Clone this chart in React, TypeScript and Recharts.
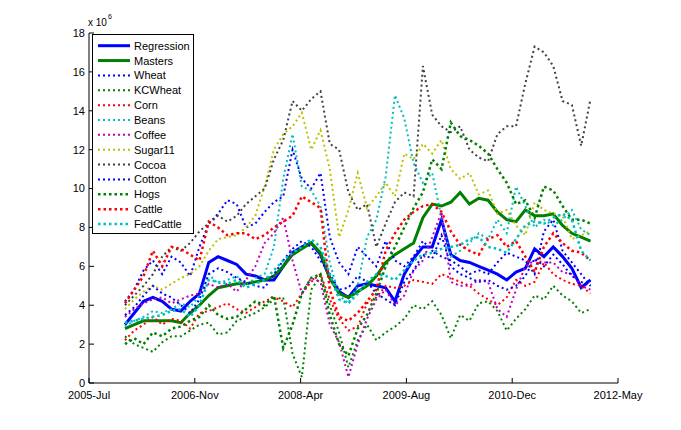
import { LineChart, Line, XAxis, YAxis } from "recharts";

// days since 2005-Jul (tick every 500 days)
const days = [
  170, 214, 258, 302, 346, 390, 434, 478, 522, 566,
  610, 654, 698, 742, 786, 830, 874, 918, 962, 1006,
  1050, 1094, 1138, 1182, 1226, 1270, 1314, 1358, 1402, 1446,
  1490, 1534, 1578, 1622, 1666, 1710, 1754, 1798, 1842, 1886,
  1930, 1974, 2018, 2062, 2106, 2150, 2194, 2238, 2282, 2326,
  2370,
];
const xTicks = [0, 500, 1000, 1500, 2000, 2500];
const xLabels = ["2005-Jul", "2006-Nov", "2008-Apr", "2009-Aug", "2010-Dec", "2012-May"];
const yTicks = [0, 2, 4, 6, 8, 10, 12, 14, 16, 18];

const regression = [
  3.0, 3.6, 4.2, 4.4, 4.2, 3.8, 3.7, 4.2, 4.6, 6.2,
  6.5, 6.3, 6.1, 5.6, 5.5, 5.3, 5.3, 6.0, 6.7, 7.0,
  7.2, 6.6, 5.4, 4.7, 4.4, 5.0, 5.1, 5.0, 4.9, 4.2,
  5.6, 6.4, 7.0, 7.0, 8.4, 6.6, 6.3, 6.2, 6.0, 5.8,
  5.6, 5.3, 5.7, 5.9, 6.9, 6.5, 7.0, 6.5, 5.9, 4.9,
  5.3,
];
const masters = [
  2.8, 3.0, 3.2, 3.2, 3.2, 3.2, 3.1, 3.6, 4.0, 4.5,
  4.9, 5.0, 5.1, 5.1, 5.2, 5.3, 5.5, 6.0, 6.6, 6.9,
  7.2, 6.7, 5.4, 4.6, 4.4, 4.7, 5.0, 5.5, 6.2, 6.6,
  6.9, 7.2, 8.5, 9.2, 9.1, 9.3, 9.8, 9.2, 9.5, 9.4,
  8.8, 8.4, 8.3, 8.9, 8.6, 8.6, 8.7, 8.1, 7.7, 7.5,
  7.3,
];
const wheat = [
  4.2, 4.8, 5.8, 6.3, 5.6, 6.5, 6.2, 5.5, 7.0, 8.2,
  8.7, 9.4, 9.2, 8.0, 8.2, 8.8, 9.3, 9.6, 12.0, 10.5,
  10.0, 10.8, 7.5, 6.2, 5.6, 7.0, 6.5, 6.0, 7.3, 6.3,
  6.0, 6.5, 7.3, 6.8, 6.5, 6.3, 6.0, 5.6, 5.8, 5.6,
  6.2, 6.7, 6.5, 6.3, 5.6, 7.8, 8.4, 6.8, 6.2, 5.6,
  5.0,
];
const kcWheat = [
  2.4, 2.0, 1.8, 1.6, 2.1, 2.4, 2.4, 2.7, 3.0, 3.1,
  2.5, 2.6, 3.2, 3.4, 3.6, 3.9, 4.3, 4.4, 1.5, 0.3,
  4.8, 5.5, 4.0, 2.6, 0.8, 2.2, 3.0, 2.2, 2.6, 2.9,
  3.3, 4.0, 3.8, 4.2, 3.5, 2.3, 3.5, 3.2, 4.1, 4.2,
  3.7, 2.7, 3.3, 3.8, 4.5, 4.3, 5.0, 4.5, 4.2, 3.6,
  3.8,
];
const corn = [
  2.2, 2.7, 3.0, 3.4, 3.0, 3.3, 3.2, 2.8, 3.6, 3.7,
  3.9, 4.1, 3.8, 3.6, 3.9, 4.2, 4.4, 4.2, 3.9, 4.6,
  5.2, 5.6, 4.3, 3.3, 2.7, 2.9, 4.1, 4.4, 5.0, 4.9,
  5.0, 5.3, 5.2, 5.1, 5.6, 5.4, 5.2, 5.0, 4.6, 4.3,
  4.0, 4.4, 5.3, 5.0, 5.2, 6.2, 5.6, 5.3, 5.1, 5.0,
  4.6,
];
const beans = [
  2.9, 3.2, 3.4, 3.7, 3.6, 3.8, 4.1, 3.9, 4.5, 5.6,
  5.1, 5.3, 5.5, 5.0, 5.4, 5.6, 7.0, 10.5, 12.8, 10.1,
  9.9, 9.1, 6.2, 4.5, 4.1, 5.0, 7.5, 8.4, 10.6, 14.8,
  13.6, 11.3, 10.3, 10.8, 8.5, 6.5, 6.8, 7.2, 7.7, 7.4,
  8.4, 7.7, 10.1, 9.1, 8.0, 8.4, 8.1, 8.4, 8.9, 7.9,
  7.6,
];
const coffee = [
  3.4, 3.8, 4.1, 4.3, 4.4, 4.1, 4.3, 4.5, 4.6, 5.1,
  4.9, 5.1, 4.7, 5.3, 6.0, 7.2, 7.7, 8.5, 6.3, 4.6,
  5.4, 5.2, 3.0, 2.1, 0.3, 2.0, 3.3, 4.3, 4.8, 4.0,
  4.5, 5.8, 6.3, 7.5, 8.8, 5.2, 5.0, 5.0, 5.3, 5.2,
  3.8, 3.4, 4.8, 6.0, 6.3, 6.2, 6.2, 5.7, 5.6, 5.0,
  4.8,
];
const sugar11 = [
  3.8, 4.3, 4.7, 5.0, 4.8, 5.1, 5.4, 5.6, 6.0, 6.8,
  7.4, 7.5, 7.6, 8.0, 8.6, 10.1, 12.0, 12.8, 13.2, 13.9,
  12.0, 13.0, 11.0, 7.5, 8.9, 10.8, 9.0, 9.6, 10.3, 9.6,
  11.8, 11.5, 12.3, 11.8, 12.5, 11.0, 10.5, 10.8, 9.7, 9.9,
  8.7, 8.9, 8.1, 7.6, 9.3, 8.9, 8.7, 8.6, 7.4, 7.6,
  7.8,
];
const cocoa = [
  4.0, 4.5, 5.0, 5.6, 6.5, 7.0, 6.8, 7.2, 7.8, 8.2,
  8.6, 8.3, 8.6, 9.2, 9.6, 10.0, 11.5, 12.5, 14.5, 14.0,
  14.6, 15.0, 12.3, 12.0, 9.8, 8.9, 9.2, 7.0, 8.2, 9.3,
  9.8, 9.6, 16.3, 13.8, 13.2, 12.9, 13.2, 12.0, 11.6, 11.4,
  12.8, 13.2, 13.2, 15.4, 17.3, 17.0, 16.3, 14.5, 14.3, 12.2,
  14.6,
];
const cotton = [
  3.5, 3.9, 4.5, 5.0, 4.6, 4.4, 4.0, 3.6, 4.3, 5.6,
  5.9, 5.7, 5.4, 5.2, 5.0, 4.9, 5.6, 6.3, 6.9, 7.3,
  7.0, 6.3, 5.6, 4.8, 4.9, 5.5, 5.2, 4.6, 4.3, 4.0,
  5.2, 5.8, 6.6, 6.4, 7.6, 6.0, 5.6, 5.4, 5.2, 5.3,
  5.0, 4.8, 5.0, 5.5, 6.4, 6.0, 6.6, 6.1, 5.5, 5.2,
  5.0,
];
const hogs = [
  2.0, 2.3, 2.0, 2.6, 2.4, 2.8, 2.9, 3.2, 3.4, 4.0,
  3.5, 3.3, 3.4, 3.8, 4.2, 4.0, 4.5, 1.8, 3.0, 4.6,
  5.4, 5.6, 3.5, 2.0, 1.4, 2.8, 3.5, 4.6, 6.0, 7.0,
  8.0, 9.0, 9.8, 11.5, 11.0, 13.4, 12.7, 12.5, 12.2, 11.8,
  11.0, 10.3, 9.2, 9.4, 8.5, 10.1, 9.9, 9.1, 8.4, 8.4,
  8.2,
];
const cattle = [
  4.1, 4.8, 5.5, 6.8, 6.0, 7.0, 6.9, 6.6, 6.3, 8.3,
  8.0, 7.6, 7.7, 7.7, 7.4, 7.6, 8.0, 8.3, 8.6, 9.6,
  9.3, 9.0, 4.8, 3.4, 3.2, 3.6, 4.2, 4.8, 6.8, 7.7,
  8.4, 8.8, 9.1, 9.2, 8.8, 7.8, 7.1, 6.8, 6.6, 7.4,
  7.6, 7.0, 7.3, 6.5, 5.7, 7.0, 7.7, 7.2, 6.8, 6.7,
  6.3,
];
const fedCattle = [
  3.1, 3.2, 3.3, 3.4, 3.5, 3.7, 3.8, 3.4, 4.0, 5.3,
  5.2, 5.1, 5.3, 4.9, 5.1, 5.3, 5.8, 6.3, 6.7, 7.0,
  7.4, 7.0, 5.6, 4.3, 4.1, 4.6, 5.2, 5.6, 5.5, 5.3,
  5.8, 6.3, 6.6, 6.7, 6.9, 7.0, 7.1, 7.4, 7.5, 7.0,
  6.9, 6.7, 7.4, 8.1, 8.3, 8.2, 8.5, 8.7, 8.4, 6.8,
  6.3,
];

const series = [
  { name: "Regression", values: regression, color: "#0000ff", width: 3, dash: undefined },
  { name: "Masters", values: masters, color: "#008000", width: 3, dash: undefined },
  { name: "Wheat", values: wheat, color: "#0000ff", width: 2, dash: "2 3" },
  { name: "KCWheat", values: kcWheat, color: "#008000", width: 2, dash: "2 3" },
  { name: "Corn", values: corn, color: "#ff0000", width: 2, dash: "2 3" },
  { name: "Beans", values: beans, color: "#00bfbf", width: 2, dash: "2 3" },
  { name: "Coffee", values: coffee, color: "#bf00bf", width: 2, dash: "2 3" },
  { name: "Sugar11", values: sugar11, color: "#bfbf00", width: 2, dash: "2 3" },
  { name: "Cocoa", values: cocoa, color: "#404040", width: 2, dash: "2 3" },
  { name: "Cotton", values: cotton, color: "#0000ff", width: 2, dash: "2 3" },
  { name: "Hogs", values: hogs, color: "#008000", width: 2.5, dash: "2.5 3" },
  { name: "Cattle", values: cattle, color: "#ff0000", width: 2.5, dash: "2.5 3" },
  { name: "FedCattle", values: fedCattle, color: "#00bfbf", width: 2.5, dash: "2.5 3" },
];

const data = days.map((d, i) => {
  const row: Record<string, number> = { day: d };
  series.forEach((s) => {
    row[s.name] = s.values[i];
  });
  return row;
});

const font = '"Liberation Sans", Arial, Helvetica, sans-serif';
const tickStyle = { fontSize: 11, fill: "#000", fontFamily: font };

function LegendBox() {
  const rowH = 14.86;
  return (
    <svg
      width={103}
      height={201}
      style={{ position: "absolute", left: 92, top: 34 }}
    >
      <rect x={0.5} y={0.5} width={101} height={199} fill="#fff" stroke="#000" />
      {series.map((s, i) => {
        const cy = 11.7 + i * rowH;
        return (
          <g key={s.name}>
            <line
              x1={6}
              x2={38}
              y1={cy}
              y2={cy}
              stroke={s.color}
              strokeWidth={s.width}
              strokeDasharray={s.dash}
            />
            <text
              x={42}
              y={cy + 4}
              fontSize={11}
              fontFamily={font}
              fill="#000"
            >
              {s.name}
            </text>
          </g>
        );
      })}
    </svg>
  );
}

export default function App() {
  return (
    <div
      style={{
        position: "absolute",
        left: 0,
        top: 0,
        width: 681,
        height: 430,
        background: "#fff",
      }}
    >
      <LineChart
        width={681}
        height={430}
        data={data}
        margin={{ top: 33, right: 63, bottom: 17, left: 59 }}
      >
        <XAxis
          dataKey="day"
          type="number"
          domain={[0, 2500]}
          ticks={xTicks}
          tickFormatter={(v: number) => xLabels[xTicks.indexOf(v)]}
          tick={tickStyle}
          stroke="#000"
          tickSize={-5}
          tickMargin={13}
          height={30}
        />
        <XAxis
          xAxisId="top"
          orientation="top"
          type="number"
          domain={[0, 2500]}
          ticks={xTicks}
          tick={false}
          stroke="#000"
          tickSize={-5}
          height={0}
        />
        <YAxis
          type="number"
          domain={[0, 18]}
          ticks={yTicks}
          tick={tickStyle}
          stroke="#000"
          tickSize={-5}
          tickMargin={9}
          width={30}
        />
        <YAxis
          yAxisId="right"
          orientation="right"
          type="number"
          domain={[0, 18]}
          ticks={yTicks}
          tick={false}
          stroke="#000"
          tickSize={-5}
          width={0}
        />
        {series.map((s) => (
          <Line
            key={s.name}
            type="linear"
            dataKey={s.name}
            stroke={s.color}
            strokeWidth={s.width}
            strokeDasharray={s.dash}
            dot={false}
            activeDot={false}
            isAnimationActive={false}
          />
        ))}
      </LineChart>
      <div
        style={{
          position: "absolute",
          left: 88,
          top: 18,
          fontSize: 10,
          lineHeight: "10px",
          fontFamily: font,
          whiteSpace: "nowrap",
        }}
      >
        x 10
      </div>
      <div
        style={{
          position: "absolute",
          left: 108,
          top: 13,
          fontSize: 7,
          lineHeight: "7px",
          fontFamily: font,
        }}
      >
        6
      </div>
      <LegendBox />
    </div>
  );
}
